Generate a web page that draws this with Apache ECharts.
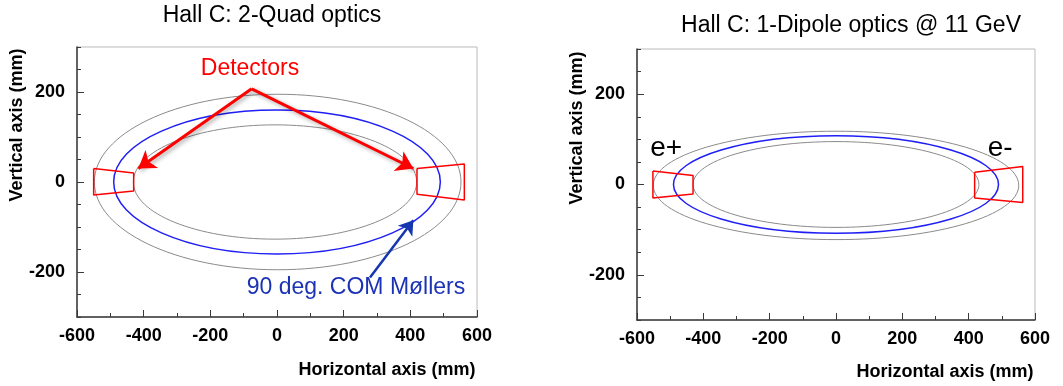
<!DOCTYPE html>
<html>
<head>
<meta charset="utf-8">
<script src="https://cdn.jsdelivr.net/npm/echarts@6/dist/echarts.min.js"></script>
<style>
  html, body { margin: 0; padding: 0; background: #fff; }
  #main { width: 1063px; height: 386px; }
</style>
</head>
<body>
<div id="main"></div>
<script>
// axes (mm)
const xRange = [-600, 600]
const yRange = [-300, 300]
const yLabelTicks = [-200, 0, 200]

// Hall C 2-Quad optics, ellipses as [cx, cy, a, b]
const quadOuter = [2, 0, 550, 195]
const quadCom = [0, 0, 490, 160]
const quadInner = [-6, 0, 425, 127]
const quadDetLeft = [[-550, 30], [-430, 20], [-430, -20], [-550, -29], [-550, 30]]
const quadDetRight = [[420, 30], [562, 40], [562, -40], [420, -27], [420, 30]]
const detArrowLeft = [[-76, 207], [-416, 30]]
const detArrowRight = [[-76, 207], [409, 30]]
const comArrow = [[279, -212], [409, -85]]
const detText = ['Detectors', -81, 252]
const comText = ['90 deg. COM Møllers', 237, -234]

// Hall C 1-Dipole optics @ 11 GeV
const dipOuter = [0, -2, 551, 120]
const dipCom = [0, 0, 490, 108]
const dipInner = [0, 0, 431, 95]
const dipDetLeft = [[-552, 30], [-431, 20], [-431, -21], [-552, -30], [-552, 30]]
const dipDetRight = [[418, 27], [563, 40], [563, -40], [418, -30], [418, 27]]
const posText = ['e+', -512, 81]
const eleText = ['e-', 495, 81]

const FONT = 'Liberation Sans, Arial, Helvetica, sans-serif'
const RED = '#ff0000'
const BLUE = '#1f1ff5'
const AXIS = '#3a3a3a'

const mChart = echarts.init(document.getElementById('main'))

function xAx(grid) {
    return {
        type: 'value', gridIndex: grid, min: xRange[0], max: xRange[1], interval: 200, z: 3,
        axisLine: { onZero: false, lineStyle: { color: AXIS, width: 1.5 } },
        axisTick: { inside: true, length: 7, lineStyle: { color: AXIS } },
        minorTick: { show: true, splitNumber: 2, length: 4, lineStyle: { color: AXIS } },
        axisLabel: { color: '#000', fontFamily: FONT, fontWeight: 'bold', fontSize: 18, margin: 10 },
        splitLine: { show: false }
    }
}
function yAx(grid) {
    return {
        type: 'value', gridIndex: grid, min: yRange[0], max: yRange[1], interval: 50, z: 3,
        axisLine: { onZero: false, lineStyle: { color: AXIS, width: 1.5 } },
        axisTick: { inside: true, length: 4, lineStyle: { color: AXIS } },
        axisLabel: {
            color: '#000', fontFamily: FONT, fontWeight: 'bold', fontSize: 18, margin: 12,
            formatter: v => (v % 200 === 0 ? String(v) : '')
        },
        splitLine: { show: false }
    }
}
// longer ticks at labelled values
function yMajor(grid) {
    return {
        type: 'value', gridIndex: grid, min: yRange[0], max: yRange[1], position: 'left', offset: 0, z: 3,
        axisLine: { show: false, onZero: false },
        axisTick: { inside: true, length: 7, customValues: yLabelTicks, lineStyle: { color: AXIS } },
        axisLabel: { show: false },
        splitLine: { show: false }
    }
}

function ellipseSeries(x, y, rows, color, width) {
    return {
        type: 'custom', xAxisIndex: x, yAxisIndex: y, clip: false, silent: true,
        data: rows,
        renderItem(params, api) {
            const c = api.coord([api.value(0), api.value(1)])
            const s = api.size([api.value(2), api.value(3)])
            return {
                type: 'ellipse',
                shape: { cx: c[0], cy: c[1], rx: s[0], ry: s[1] },
                style: { fill: 'none', stroke: color, lineWidth: width }
            }
        }
    }
}
function polySeries(x, y, pts) {
    return {
        type: 'line', xAxisIndex: x, yAxisIndex: y, data: pts, showSymbol: false, silent: true,
        lineStyle: { color: RED, width: 1.5 }, z: 4
    }
}
function textSeries(x, y, t, color, size) {
    return {
        type: 'scatter', xAxisIndex: x, yAxisIndex: y, symbolSize: 0, silent: true,
        data: [[t[1], t[2]]],
        itemStyle: { opacity: 1, color: color },
        label: {
            show: true, position: 'inside', formatter: t[0], color: color, opacity: 1,
            fontFamily: FONT, fontSize: size
        },
        z: 6
    }
}
function arrowSeries(x, y, segs, color, width, shadow) {
    return {
        type: 'lines', coordinateSystem: 'cartesian2d', xAxisIndex: x, yAxisIndex: y,
        symbol: ['none', 'arrow'], symbolSize: width * 5.5, silent: true,
        data: segs.map(s => ({ coords: s })),
        lineStyle: Object.assign({ color: color, width: width, opacity: 1, curveness: 0 },
            shadow ? { shadowColor: 'rgba(0,0,0,0.35)', shadowBlur: 4, shadowOffsetX: 2, shadowOffsetY: 2 } : {}),
        z: 5
    }
}

function txt(text, x, y, size, bold, rot) {
    return {
        type: 'text', x: x, y: y, rotation: rot || 0,
        style: {
            text: text, fill: '#000', font: (bold ? 'bold ' : '') + size + 'px ' + FONT,
            align: 'center', verticalAlign: 'middle', textAlign: 'center', textVerticalAlign: 'middle'
        }
    }
}

const option = {
    animation: false,
    grid: [
        { left: 77, top: 47, width: 400, height: 270, show: true, borderColor: '#bbb', borderWidth: 1 },
        { left: 637, top: 49, width: 398, height: 271, show: true, borderColor: '#bbb', borderWidth: 1 }
    ],
    xAxis: [xAx(0), xAx(1)],
    yAxis: [yAx(0), yMajor(0), yAx(1), yMajor(1)],
    graphic: [
        txt('Hall C: 2-Quad optics', 272, 16, 23, false),
        txt('Hall C: 1-Dipole optics @ 11 GeV', 851, 26, 23, false),
        txt('Horizontal axis (mm)', 387, 370, 18, true),
        txt('Horizontal axis (mm)', 945, 372, 18, true),
        txt('Vertical axis (mm)', 17, 125, 18, true, Math.PI / 2),
        txt('Vertical axis (mm)', 577, 128, 18, true, Math.PI / 2)
    ],
    series: [
        ellipseSeries(0, 0, [quadOuter, quadInner], '#8a8a8a', 1),
        ellipseSeries(0, 0, [quadCom], BLUE, 1.5),
        polySeries(0, 0, quadDetLeft),
        polySeries(0, 0, quadDetRight),
        arrowSeries(0, 0, [detArrowLeft, detArrowRight], RED, 3, true),
        arrowSeries(0, 0, [comArrow], '#1536b0', 2.5, false),
        textSeries(0, 0, detText, RED, 23),
        textSeries(0, 0, comText, '#1c33b5', 23),

        ellipseSeries(1, 2, [dipOuter, dipInner], '#8a8a8a', 1),
        ellipseSeries(1, 2, [dipCom], BLUE, 1.5),
        polySeries(1, 2, dipDetLeft),
        polySeries(1, 2, dipDetRight),
        textSeries(1, 2, posText, '#000', 28),
        textSeries(1, 2, eleText, '#000', 28)
    ]
}
mChart.setOption(option)
window.addEventListener('resize', function() {
    mChart.resize()
})
</script>
</body>
</html>
